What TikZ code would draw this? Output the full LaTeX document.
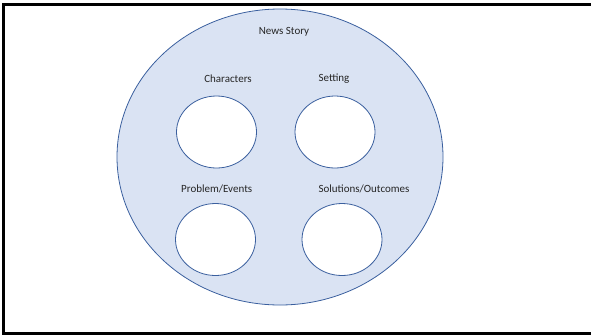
\documentclass[tikz,border=0pt]{standalone}
\usepackage{fontspec}
\setmainfont{Carlito}
\usetikzlibrary{shapes.geometric}
\definecolor{storyfill}{HTML}{DAE3F3}
\definecolor{storyline}{HTML}{3A5F9E}
\definecolor{labeltext}{HTML}{262626}
\begin{document}
\begin{tikzpicture}[x=1pt,y=-1pt,
  story/.style={ellipse,draw=storyline,line width=0.8pt,fill=storyfill,
    minimum width=326pt,minimum height=296pt,inner sep=0pt},
  element/.style={ellipse,draw=storyline,line width=0.8pt,fill=white,
    minimum width=80pt,minimum height=72pt,inner sep=0pt},
  caption/.style={text=labeltext,font=\fontsize{11}{13}\selectfont,inner sep=0pt}]
  \useasboundingbox (0,0) rectangle (591,335);
  % frame
  \begin{scope}
    \clip (0,0) rectangle (591,335);
    \draw[line width=3pt] (3.3,4.5) rectangle (610,333.5);
  \end{scope}
  % outer story circle
  \node[story] (story) at (280,157) {};
  \node[caption] (title) at (284,32) {News Story};
  % four elements with their labels
  \node[element] (chars) at (216.5,132) {};
  \node[caption] (charslbl) at (228,79) {Characters};
  \node[element] (setting) at (335,132) {};
  \node[caption] (settinglbl) at (334,79) {Setting};
  \node[element] (problem) at (215.5,239.5) {};
  \node[caption] (problemlbl) at (216.7,189) {Problem/Events};
  \node[element] (solutions) at (342,239.5) {};
  \node[caption] (solutionslbl) at (364,189) {Solutions/Outcomes};
\end{tikzpicture}
\end{document}
